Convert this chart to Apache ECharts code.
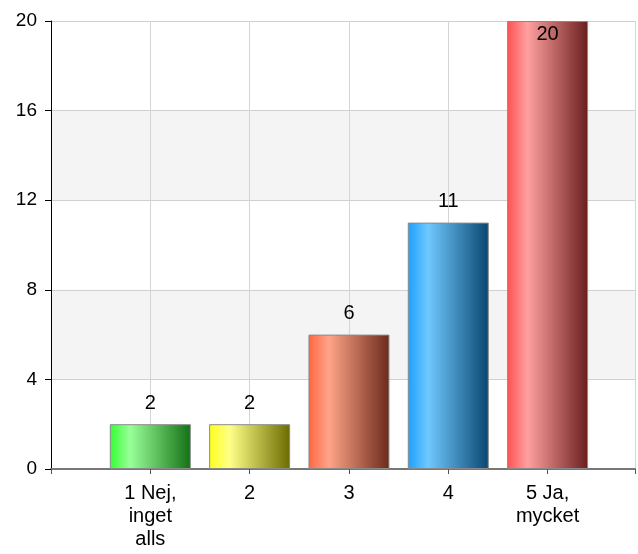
<!DOCTYPE html>
<html>
<head>
<meta charset="utf-8">
<script src="https://cdn.jsdelivr.net/npm/echarts@6/dist/echarts.min.js"></script>
<style>html,body{margin:0;padding:0;background:#fff}#c{width:638px;height:554px}</style>
</head>
<body>
<div id="c"></div>
<script>
var categories = ['1 Nej,\ninget\nalls', '2', '3', '4', '5 Ja,\nmycket'];
var values = [2, 2, 6, 11, 20];
var yTicks = [0, 4, 8, 12, 16, 20];
var barColors = [
  ['#33ff33', '#99ff99', '#147014'],
  ['#ffff1a', '#ffff88', '#6b6b00'],
  ['#ff6640', '#ffa488', '#6b2a1a'],
  ['#1aa0ff', '#70c8ff', '#0a4670'],
  ['#ff5050', '#ffa0a0', '#6b1e1e']
];

function grad(c) {
  return new echarts.graphic.LinearGradient(0, 0, 1, 0, [
    {offset: 0, color: c[0]},
    {offset: 0.25, color: c[1]},
    {offset: 1, color: c[2]}
  ]);
}

var data = values.map(function (v, i) {
  return {
    value: [i + 1, v],
    itemStyle: {color: grad(barColors[i]), borderColor: '#8a8a8a', borderWidth: 1},
    label: v >= yTicks[yTicks.length - 1] ? {position: 'insideTop', distance: 3} : {position: 'top', distance: 11}
  };
});

var chart = echarts.init(document.getElementById('c'), null, {renderer: 'canvas'});
chart.setOption({
  animation: false,
  backgroundColor: '#ffffff',
  textStyle: {fontFamily: 'Liberation Sans, Arial, sans-serif'},
  grid: {left: 51, top: 21, right: -1, bottom: 85, containLabel: false},
  xAxis: {
    type: 'value',
    min: 0,
    max: 5.88,
    interval: 1,
    axisLine: {show: true, lineStyle: {color: '#777', width: 2}},
    axisTick: {show: true, length: 5, lineStyle: {color: '#555'}},
    axisLabel: {
      show: true,
      margin: 13,
      fontSize: 20,
      lineHeight: 23,
      color: '#000',
      formatter: function (v) {
        var i = Math.round(v);
        if (Math.abs(v - i) > 1e-6 || i < 1 || i > categories.length) return '';
        return categories[i - 1];
      }
    },
    splitLine: {show: true, lineStyle: {color: '#d4d4d4', width: 1}}
  },
  yAxis: {
    type: 'value',
    min: yTicks[0],
    max: yTicks[yTicks.length - 1],
    interval: yTicks[1] - yTicks[0],
    axisLine: {show: true, lineStyle: {color: '#000', width: 1}},
    axisTick: {show: true, length: 6, lineStyle: {color: '#000'}},
    axisLabel: {fontSize: 19, color: '#000', margin: 14},
    splitLine: {show: true, lineStyle: {color: '#d0d0d0', width: 1}},
    splitArea: {show: true, areaStyle: {color: ['#ffffff', '#f4f4f4']}}
  },
  series: [{
    type: 'bar',
    barWidth: 81,
    data: data,
    label: {show: true, fontSize: 20, color: '#000'}
  }]
});
</script>
</body>
</html>
